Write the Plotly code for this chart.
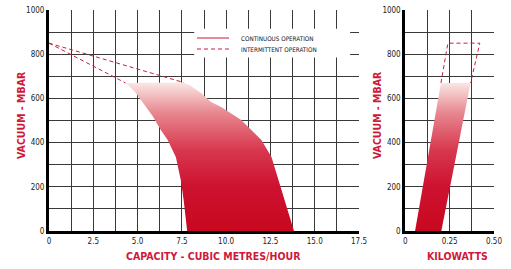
import plotly.graph_objects as go

W, H = 511, 269

# ---- data ----
# Left chart: capacity envelope (m3/h) vs vacuum (mbar)
left_vac = [0, 63, 140, 231, 335, 412, 457, 520, 579, 630, 670]
left_cap = [7.8, 7.72, 7.6, 7.44, 7.16, 6.7, 6.31, 5.85, 5.34, 4.85, 4.32]
right_vac = [672, 660, 624, 584, 561, 502, 412, 335, 231, 140, 63, 0]
right_cap = [7.6, 7.95, 8.58, 9.15, 9.72, 10.85, 11.99, 12.56, 12.95, 13.30, 13.58, 13.83]
# intermittent operation (dashed) lines, left chart
int_cap = [0, 4.32, None, 0, 7.6]
int_vac = [850, 670, None, 850, 672]

# Right chart: power (kW) vs vacuum
kw_cont = [0.055, 0.203, 0.368, 0.201, 0.055]
kw_cont_vac = [0, 0, 670, 670, 0]
kw_int = [0.201, 0.24, 0.42, 0.368]
kw_int_vac = [670, 850, 850, 670]

cap_ticks = [0, 1.25, 2.5, 3.75, 5.0, 6.25, 7.5, 8.75, 10.0, 11.25, 12.5, 13.75, 15.0, 16.25, 17.5]
cap_text = ["0", "", "2.5", "", "5.0", "", "7.5", "", "10.0", "", "12.5", "", "15.0", "", "17.5"]
kw_ticks = [0, 0.125, 0.25, 0.375, 0.5]
kw_text = ["0", "", "0.25", "", "0.50"]
vac_ticks = [0, 100, 200, 300, 400, 500, 600, 700, 800, 900, 1000]
vac_text = ["0", "", "200", "", "400", "", "600", "", "800", "", "1000"]

RED = "#d0183a"
GRID = "#3a3a3a"
FONT = "Liberation Sans Narrow, DejaVu Sans Condensed, Arial Narrow, sans-serif"
grad = dict(type="vertical", start=0, stop=670,
            colorscale=[[0, "#c9081f"], [0.3, "#cd1230"], [0.55, "#d8384f"],
                        [0.8, "#e78890"], [1.0, "#fae6e3"]])

fig = go.Figure()

# left envelope polygon
poly_x = left_cap + right_cap + [left_cap[0]]
poly_y = left_vac + right_vac + [left_vac[0]]
fig.add_trace(go.Scatter(x=poly_x, y=poly_y, mode="lines", line=dict(width=0),
                         fill="toself", fillgradient=grad, showlegend=False,
                         hoverinfo="skip", xaxis="x", yaxis="y"))
fig.add_trace(go.Scatter(x=int_cap, y=int_vac, mode="lines",
                         line=dict(color=RED, width=1, dash="4px,3px"),
                         showlegend=False, xaxis="x", yaxis="y"))
# right polygon
fig.add_trace(go.Scatter(x=kw_cont, y=kw_cont_vac, mode="lines", line=dict(width=0),
                         fill="toself", fillgradient=grad, showlegend=False,
                         hoverinfo="skip", xaxis="x2", yaxis="y2"))
fig.add_trace(go.Scatter(x=kw_int, y=kw_int_vac, mode="lines",
                         line=dict(color=RED, width=1, dash="4px,3px"),
                         showlegend=False, xaxis="x2", yaxis="y2"))

def px(x):
    return x / W

def py(y):
    return 1 - y / H

ydom = [py(231), py(10)]
axcommon = dict(showgrid=True, gridcolor=GRID, gridwidth=1, zeroline=False,
                showline=True, linecolor="black", linewidth=3, ticks="",
                tickfont=dict(family=FONT, size=8, color="#222"), tickmode="array",
                fixedrange=True, automargin=False)

fig.update_layout(
    width=W, height=H, margin=dict(l=0, r=0, t=0, b=0, autoexpand=False),
    paper_bgcolor="white", plot_bgcolor="white", showlegend=False,
    xaxis=dict(domain=[px(49), px(359)], range=[0, 17.5], tickvals=cap_ticks,
               ticktext=cap_text, anchor="y", **axcommon),
    yaxis=dict(domain=ydom, range=[0, 1000], tickvals=vac_ticks, ticktext=vac_text,
               anchor="x", **axcommon),
    xaxis2=dict(domain=[px(405.3), px(494)], range=[0, 0.5], tickvals=kw_ticks,
                ticktext=kw_text, anchor="y2", **axcommon),
    yaxis2=dict(domain=ydom, range=[0, 1000], tickvals=vac_ticks, ticktext=vac_text,
                anchor="x2", **axcommon),
)

# legend box and samples
fig.add_shape(type="rect", xref="x", yref="y", x0=8.2, x1=17.0, y0=785, y1=915,
              fillcolor="white", line=dict(width=0), layer="above")
fig.add_shape(type="line", xref="paper", yref="paper", x0=px(197), x1=px(229),
              y0=py(38), y1=py(38), line=dict(color=RED, width=1))
fig.add_shape(type="line", xref="paper", yref="paper", x0=px(197), x1=px(229),
              y0=py(49), y1=py(49), line=dict(color=RED, width=1, dash="4px,3px"))
for txt, yy in [("CONTINUOUS OPERATION", 38), ("INTERMITTENT OPERATION", 49)]:
    fig.add_annotation(x=px(239), y=py(yy), xref="paper", yref="paper", text=txt,
                       showarrow=False, xanchor="left", yanchor="middle",
                       font=dict(family=FONT, size=6.3, color="#111"))

# axis titles
tfont = dict(family=FONT, size=10.5, color=RED)
fig.add_annotation(x=px(21), y=py(115), xref="paper", yref="paper",
                   text="<b>VACUUM - MBAR</b>", textangle=-90, showarrow=False,
                   xanchor="center", yanchor="middle", font=tfont)
fig.add_annotation(x=px(377), y=py(115), xref="paper", yref="paper",
                   text="<b>VACUUM - MBAR</b>", textangle=-90, showarrow=False,
                   xanchor="center", yanchor="middle", font=tfont)
fig.add_annotation(x=px(213.5), y=py(256), xref="paper", yref="paper",
                   text="<b>CAPACITY - CUBIC METRES/HOUR</b>", showarrow=False,
                   xanchor="center", yanchor="middle", font=tfont)
fig.add_annotation(x=px(457), y=py(256), xref="paper", yref="paper",
                   text="<b>KILOWATTS</b>", showarrow=False,
                   xanchor="center", yanchor="middle", font=tfont)

fig.write_html("out.html", config={"displayModeBar": False},
               post_script="document.body.style.margin='0';document.body.style.padding='0';")
